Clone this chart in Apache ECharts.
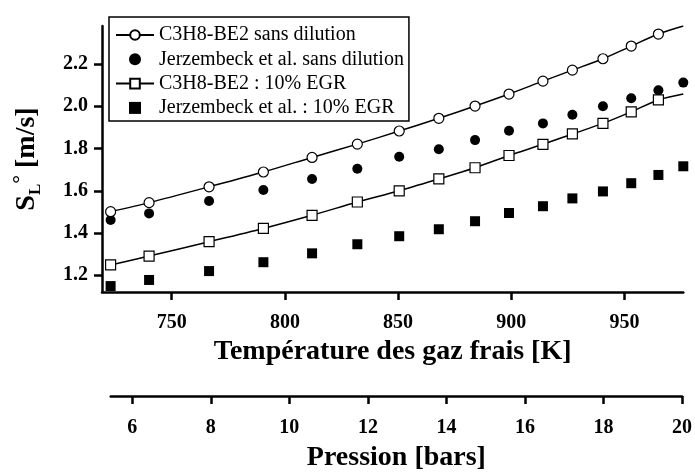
<!DOCTYPE html>
<html><head><meta charset="utf-8">
<script src="https://cdn.jsdelivr.net/npm/echarts@6/dist/echarts.min.js"></script>
<style>html,body{margin:0;padding:0;background:#fff}#c{width:695px;height:473px}</style>
</head><body><div id="c"></div>
<script>
// Temperatures of the fresh gases [K]
const tempModel = [723, 740, 766.5, 790.5, 812, 832, 850.5, 868, 884, 899, 914, 927, 940.5, 953, 965];
const tempExp   = [723, 740, 766.5, 790.5, 812, 832, 850.5, 868, 884, 899, 914, 927, 940.5, 953, 965, 976];
// Laminar flame speeds S_L [m/s]
const slModelPure = [1.501, 1.544, 1.619, 1.689, 1.758, 1.821, 1.883, 1.943, 2.001, 2.058, 2.119, 2.171, 2.225, 2.285, 2.342];
const slExpPure   = [1.462, 1.493, 1.552, 1.604, 1.656, 1.704, 1.761, 1.797, 1.840, 1.884, 1.919, 1.960, 2.000, 2.038, 2.076, 2.112];
const slModelEgr  = [1.249, 1.291, 1.359, 1.422, 1.484, 1.547, 1.600, 1.656, 1.709, 1.767, 1.820, 1.869, 1.919, 1.974, 2.030];
const slExpEgr    = [1.149, 1.178, 1.220, 1.262, 1.304, 1.347, 1.385, 1.418, 1.456, 1.495, 1.527, 1.564, 1.597, 1.636, 1.675, 1.716];
// end of fitted curves
const fitEndT = 976;
const fitEndPure = 2.38;
const fitEndEgr = 2.058;
// ticks
const tempTicks = [750, 800, 850, 900, 950];
const slTicks = [1.2, 1.4, 1.6, 1.8, 2.0, 2.2];
const pressTicks = [6, 8, 10, 12, 14, 16, 18, 20];
const names = ['C3H8-BE2 sans dilution', 'Jerzembeck et al. sans dilution', 'C3H8-BE2 : 10% EGR', 'Jerzembeck et al. : 10% EGR'];

const FONT = "'Liberation Serif', 'Times New Roman', serif";
const zip = (xs, ys) => xs.map((x, i) => [x, ys[i]]);
const fitData = (xs, ys, endY) => zip(xs, ys).concat([{ value: [fitEndT, endY], symbol: 'none' }]);

const axisLine = { show: true, onZero: false, lineStyle: { color: '#000', width: 2.5 } };
const tickStyle = (vals) => ({ show: true, inside: false, length: 8, customValues: vals, lineStyle: { color: '#000', width: 2.5 } });
const labelStyle = (vals, margin, fmt) => ({ customValues: vals, margin: margin, fontFamily: FONT, fontWeight: 'bold', fontSize: 20, color: '#000', formatter: fmt });
const nameStyle = { fontFamily: FONT, fontWeight: 'bold', fontSize: 28, color: '#000' };

const chart = echarts.init(document.getElementById('c'), null, { renderer: 'canvas' });
chart.setOption({
  animation: false,
  backgroundColor: '#fff',
  grid: [
    { left: 102, top: 26, width: 581.3, height: 266 },
    { left: 110.7, top: 390, width: 573.3, height: 11 }
  ],
  legend: {
    orient: 'vertical', left: 109, top: 17,
    data: [
      { name: names[0] },
      { name: names[1], icon: 'circle' },
      { name: names[2] },
      { name: names[3], icon: 'path://M0,0L10,0L10,10L0,10Z' }
    ],
    symbolKeepAspect: true,
    itemWidth: 38, itemHeight: 12, itemGap: 4.3,
    padding: [8, 5, 3, 6],
    borderColor: '#000', borderWidth: 1.5,
    textStyle: { fontFamily: FONT, fontSize: 20, color: '#000' }
  },
  xAxis: [
    {
      type: 'value', gridIndex: 0, min: 719.2, max: 976, position: 'bottom',
      axisLine: axisLine, axisTick: tickStyle(tempTicks),
      axisLabel: labelStyle(tempTicks, 21, v => String(v)),
      splitLine: { show: false },
      name: 'Température des gaz frais [K]', nameLocation: 'middle', nameGap: 46, nameTextStyle: nameStyle
    },
    {
      type: 'value', gridIndex: 1, min: 5.45, max: 20, position: 'bottom',
      axisLine: axisLine, axisTick: tickStyle(pressTicks),
      axisLabel: labelStyle(pressTicks, 22, v => String(v)),
      splitLine: { show: false },
      name: 'Pression [bars]', nameLocation: 'middle', nameGap: 48, nameTextStyle: nameStyle
    }
  ],
  yAxis: [
    {
      type: 'value', gridIndex: 0, min: 1.121, max: 2.38,
      axisLine: axisLine, axisTick: tickStyle(slTicks),
      axisLabel: labelStyle(slTicks, 14, v => v.toFixed(1)),
      splitLine: { show: false },
      name: '{s|S}{sub|L}{deg|°} {s|[m/s]}', nameLocation: 'middle', nameGap: 58, nameRotate: 90,
      nameTextStyle: {
        fontFamily: FONT, fontWeight: 'bold', fontSize: 28, color: '#000',
        rich: {
          s: { fontFamily: FONT, fontWeight: 'bold', fontSize: 28, color: '#000', lineHeight: 34 },
          sub: { fontFamily: FONT, fontWeight: 'bold', fontSize: 17, color: '#000', verticalAlign: 'bottom', lineHeight: 22 },
          deg: { fontFamily: FONT, fontSize: 22, color: '#000', verticalAlign: 'top', lineHeight: 22 }
        }
      }
    },
    { type: 'value', gridIndex: 1, min: 0, max: 1, show: false }
  ],
  series: [
    {
      name: names[0], type: 'line', xAxisIndex: 0, yAxisIndex: 0,
      data: fitData(tempModel, slModelPure, fitEndPure), smooth: 0.3,
      symbol: 'circle', symbolSize: 10,
      itemStyle: { color: '#fff', borderColor: '#000', borderWidth: 1.2, opacity: 1 },
      lineStyle: { color: '#000', width: 1.5 }
    },
    {
      name: names[1], type: 'scatter', xAxisIndex: 0, yAxisIndex: 0,
      data: zip(tempExp, slExpPure), symbol: 'circle', symbolSize: 10,
      itemStyle: { color: '#000', opacity: 1 }
    },
    {
      name: names[2], type: 'line', xAxisIndex: 0, yAxisIndex: 0,
      data: fitData(tempModel, slModelEgr, fitEndEgr), smooth: 0.3,
      symbol: 'rect', symbolSize: 10,
      itemStyle: { color: '#fff', borderColor: '#000', borderWidth: 1.2, opacity: 1 },
      lineStyle: { color: '#000', width: 1.5 }
    },
    {
      name: names[3], type: 'scatter', xAxisIndex: 0, yAxisIndex: 0,
      data: zip(tempExp, slExpEgr), symbol: 'rect', symbolSize: 10,
      itemStyle: { color: '#000', opacity: 1 }
    },
    { type: 'line', xAxisIndex: 1, yAxisIndex: 1, data: [], silent: true }
  ]
});
</script>
</body></html>
